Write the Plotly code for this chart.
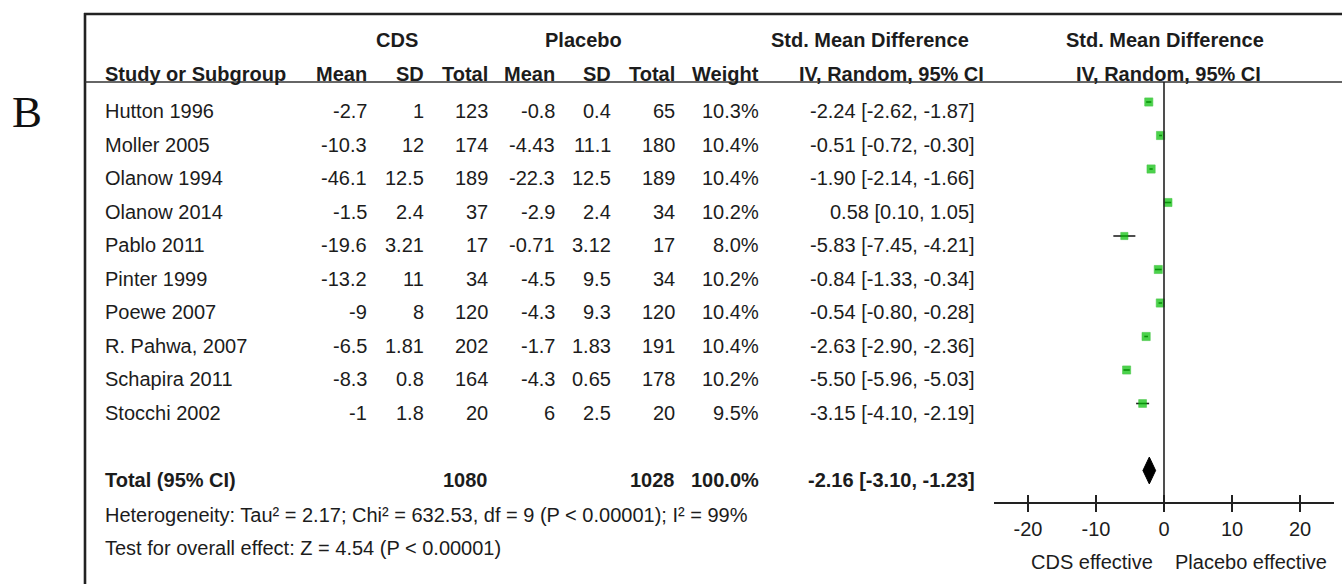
import plotly.graph_objects as go

# ---- study data -------------------------------------------------------------
studies = ["Hutton 1996", "Moller 2005", "Olanow 1994", "Olanow 2014", "Pablo 2011",
           "Pinter 1999", "Poewe 2007", "R. Pahwa, 2007", "Schapira 2011", "Stocchi 2002"]
cds_mean = [-2.7, -10.3, -46.1, -1.5, -19.6, -13.2, -9, -6.5, -8.3, -1]
cds_sd = [1, 12, 12.5, 2.4, 3.21, 11, 8, 1.81, 0.8, 1.8]
cds_n = [123, 174, 189, 37, 17, 34, 120, 202, 164, 20]
pla_mean = [-0.8, -4.43, -22.3, -2.9, -0.71, -4.5, -4.3, -1.7, -4.3, 6]
pla_sd = [0.4, 11.1, 12.5, 2.4, 3.12, 9.5, 9.3, 1.83, 0.65, 2.5]
pla_n = [65, 180, 189, 34, 17, 34, 120, 191, 178, 20]
weight = [10.3, 10.4, 10.4, 10.2, 8.0, 10.2, 10.4, 10.4, 10.2, 9.5]
smd = [-2.24, -0.51, -1.90, 0.58, -5.83, -0.84, -0.54, -2.63, -5.50, -3.15]
ci_lo = [-2.62, -0.72, -2.14, 0.10, -7.45, -1.33, -0.80, -2.90, -5.96, -4.10]
ci_hi = [-1.87, -0.30, -1.66, 1.05, -4.21, -0.34, -0.28, -2.36, -5.03, -2.19]

total_cds_n = 1080
total_pla_n = 1028
total_weight = 100.0
total_smd = -2.16
total_lo = -3.10
total_hi = -1.23

heterogeneity = "Heterogeneity: Tau² = 2.17; Chi² = 632.53, df = 9 (P < 0.00001); I² = 99%"
overall_test = "Test for overall effect: Z = 4.54 (P < 0.00001)"

axis_ticks = [-20, -10, 0, 10, 20]
axis_range = [-25, 25]

# ---- page geometry (pixels) -------------------------------------------------
W, H = 1342, 584
ROW0, ROW_H = 111, 33.5          # centre of first study row, row pitch
MARK_SHIFT = 9                   # plot marks sit slightly above the text rows
TOTAL_ROW = 11
FONT = "Arial, Liberation Sans, sans-serif"
INK = "#1c1c1c"


def py(p):
    """pixel row -> paper fraction"""
    return 1 - p / H


def g(v):
    return f"{v:g}"


fig = go.Figure()

# study squares with confidence-interval whiskers
sizes = [8.2 * (w / max(weight)) ** 0.5 for w in weight]
fig.add_trace(go.Scatter(
    x=smd, y=list(range(len(studies))), xaxis="x2", yaxis="y2",
    mode="markers",
    marker=dict(symbol="square", size=sizes, color="#00c000",
                line=dict(width=0.6, color="#00b000")),
    error_x=dict(type="data", symmetric=False,
                 array=[h - m for h, m in zip(ci_hi, smd)],
                 arrayminus=[m - l for m, l in zip(smd, ci_lo)],
                 width=0, thickness=1.6, color="#222222"),
    hoverinfo="skip", showlegend=False,
))

# pooled estimate diamond
half_h = 0.4
fig.add_trace(go.Scatter(
    x=[total_lo, total_smd, total_hi, total_smd, total_lo],
    y=[TOTAL_ROW, TOTAL_ROW - half_h, TOTAL_ROW, TOTAL_ROW + half_h, TOTAL_ROW],
    xaxis="x2", yaxis="y2", mode="lines", fill="toself",
    fillcolor="#000000", line=dict(color="#000000", width=1),
    hoverinfo="skip", showlegend=False,
))

# companion axis carrying the upward half of the crossing ticks
fig.add_trace(go.Scatter(x=[0], y=[0], xaxis="x3", yaxis="y2", mode="markers",
                         marker=dict(opacity=0), hoverinfo="skip", showlegend=False))

ann = []


def txt(x, y, s, anchor="right", bold=False, size=20, yref="y", xref="x", **kw):
    ann.append(dict(x=x, y=y, xref=xref, yref=yref, text=f"<b>{s}</b>" if bold else s,
                    showarrow=False, xanchor=anchor, yanchor="middle",
                    font=dict(family=FONT, size=size, color=INK), **kw))


# column layout: (right edge px, header)
cols = [(369, "Mean"), (426, "SD"), (490, "Total"), (557, "Mean"), (613, "SD"),
        (677, "Total"), (761, "Weight")]
CI_RIGHT = 977

# group headers
HEAD1, HEAD2 = 40, 74
txt(397, py(HEAD1), "CDS", "center", True, yref="paper")
txt(583, py(HEAD1), "Placebo", "center", True, yref="paper")
txt(870, py(HEAD1), "Std. Mean Difference", "center", True, yref="paper")
txt(1165, py(HEAD1), "Std. Mean Difference", "center", True, yref="paper")

txt(103, py(HEAD2), "Study or Subgroup", "left", True, yref="paper")
for xr, h in cols:
    txt(xr, py(HEAD2), h, "right", True, yref="paper")
txt(891, py(HEAD2), "IV, Random, 95% CI", "center", True, yref="paper")
txt(1168, py(HEAD2), "IV, Random, 95% CI", "center", True, yref="paper")

# study rows
for i, name in enumerate(studies):
    txt(103, i, name, "left")
    vals = [g(cds_mean[i]), g(cds_sd[i]), str(cds_n[i]), g(pla_mean[i]), g(pla_sd[i]),
            str(pla_n[i]), f"{weight[i]:.1f}%"]
    for (xr, _), v in zip(cols, vals):
        txt(xr, i, v)
    txt(CI_RIGHT, i, f"{smd[i]:.2f} [{ci_lo[i]:.2f}, {ci_hi[i]:.2f}]")

# total row
txt(103, TOTAL_ROW, "Total (95% CI)", "left", True)
txt(cols[2][0], TOTAL_ROW, str(total_cds_n), bold=True)
txt(cols[5][0], TOTAL_ROW, str(total_pla_n), bold=True)
txt(cols[6][0], TOTAL_ROW, f"{total_weight:.1f}%", bold=True)
txt(CI_RIGHT, TOTAL_ROW, f"{total_smd:.2f} [{total_lo:.2f}, {total_hi:.2f}]", bold=True)

txt(103, py(515), heterogeneity, "left", yref="paper")
txt(103, py(548), overall_test, "left", yref="paper")

# favours labels under the axis
txt(0, py(562), "CDS effective", "right", xref="x2", yref="paper", xshift=-9)
txt(0, py(562), "Placebo effective", "left", xref="x2", yref="paper", xshift=9)

# panel letter
ann.append(dict(x=27, y=py(112), xref="x", yref="paper", text="B", showarrow=False,
                xanchor="center", yanchor="middle",
                font=dict(family="Times New Roman, Liberation Serif, serif", size=45, color="#111")))

AXIS_Y = 503
shapes = [
    # frame (left and top edges) and header rule
    dict(type="line", xref="paper", yref="paper", x0=85 / W, x1=85 / W, y0=py(13), y1=0,
         line=dict(color="#222", width=2.6)),
    dict(type="line", xref="paper", yref="paper", x0=84 / W, x1=1, y0=py(14), y1=py(14),
         line=dict(color="#222", width=2.6)),
    dict(type="line", xref="paper", yref="paper", x0=85 / W, x1=1, y0=py(82), y1=py(82),
         line=dict(color="#333", width=1.6)),
    # line of no effect
    dict(type="line", xref="x2", yref="paper", x0=0, x1=0, y0=py(82), y1=py(AXIS_Y),
         line=dict(color="#222", width=1.6)),
]

axis_common = dict(range=axis_range, domain=[994 / W, 1334 / W], anchor="free",
                   position=py(AXIS_Y), tickvals=axis_ticks,
                   ticktext=[g(t) for t in axis_ticks], showgrid=False,
                   zeroline=False, fixedrange=True, tickwidth=1.6, tickcolor="#222",
                   ticklen=8)

fig.update_layout(
    width=W, height=H, margin=dict(l=0, r=0, t=0, b=0),
    paper_bgcolor="white", plot_bgcolor="rgba(0,0,0,0)",
    xaxis=dict(range=[0, W], domain=[0, 1], visible=False, fixedrange=True),
    yaxis=dict(range=[(H - ROW0) / ROW_H, -ROW0 / ROW_H], domain=[0, 1],
               visible=False, fixedrange=True),
    xaxis2=dict(**axis_common, showline=True, linecolor="#222", linewidth=1.6,
                ticks="outside", showticklabels=True,
                tickfont=dict(family=FONT, size=20, color=INK)),
    xaxis3=dict(**axis_common, overlaying="x2", showline=False, ticks="inside",
                showticklabels=False),
    yaxis2=dict(range=[(H - ROW0 + MARK_SHIFT) / ROW_H, -(ROW0 - MARK_SHIFT) / ROW_H],
                domain=[0, 1], anchor="x2", visible=False, fixedrange=True),
    annotations=ann, shapes=shapes,
)

fig.write_html("out.html")
